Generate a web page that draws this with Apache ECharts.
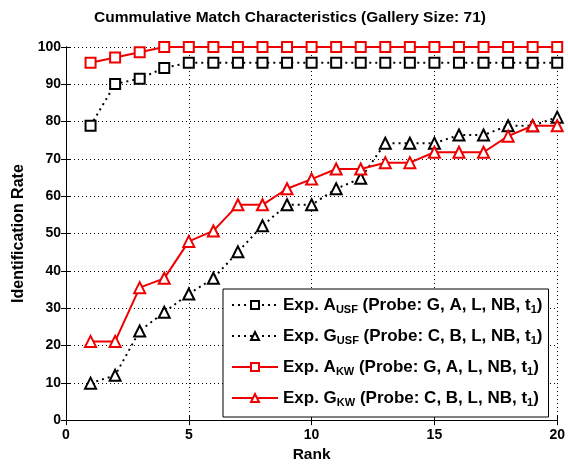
<!DOCTYPE html>
<html><head><meta charset="utf-8">
<script src="https://cdn.jsdelivr.net/npm/echarts@6/dist/echarts.min.js"></script>
<style>html,body{margin:0;padding:0;background:#fff}#c{width:568px;height:468px}</style>
</head><body><div id="c"></div>
<script>
const ranks = [1,2,3,4,5,6,7,8,9,10,11,12,13,14,15,16,17,18,19,20];
const aUSF = [78.9,90.1,91.5,94.4,95.8,95.8,95.8,95.8,95.8,95.8,95.8,95.8,95.8,95.8,95.8,95.8,95.8,95.8,95.8,95.8];
const gUSF = [9.9,12.0,23.9,28.9,33.8,38.0,45.1,52.1,57.7,57.7,62.0,64.8,74.2,74.2,74.2,76.4,76.4,78.9,78.9,81.2];
const aKW = [95.8,97.2,98.6,100,100,100,100,100,100,100,100,100,100,100,100,100,100,100,100,100];
const gKW = [21.1,21.1,35.5,38.0,47.9,50.7,57.7,57.7,62.0,64.6,67.3,67.3,69.0,69.0,71.8,71.8,71.8,76.1,78.9,78.9];
const xTicks = [0,5,10,15,20];
const yTicks = [0,10,20,30,40,50,60,70,80,90,100];
const seriesNames = ['aUSF','gUSF','aKW','gKW'];
const legendLabels = {
  aUSF: 'Exp. A{sub|USF} (Probe: G, A, L, NB, t{sub|1})',
  gUSF: 'Exp. G{sub|USF} (Probe: C, B, L, NB, t{sub|1})',
  aKW: 'Exp. A{sub|KW} (Probe: G, A, L, NB, t{sub|1})',
  gKW: 'Exp. G{sub|KW} (Probe: C, B, L, NB, t{sub|1})'
};
const pair = arr => ranks.map((r,i)=>[r, arr[i]]);
const font = '"Liberation Sans", Arial, sans-serif';
const chart = echarts.init(document.getElementById('c'), null, {renderer:'canvas'});
function mk(name, data, color, symbol, dotted){
  return {
    name, type:'line', data: pair(data), xAxisIndex:0, yAxisIndex:0,
    symbol, symbolSize: symbol==='rect'?10:11, showAllSymbol:true,
    itemStyle:{color:'#fff', borderColor:color, borderWidth:2},
    lineStyle:{color, width:2, type: dotted?[2,4]:'solid'},
    emphasis:{disabled:true}, animation:false
  };
}
chart.setOption({
  animation:false,
  backgroundColor:'#fff',
  title:{text:'Cummulative Match Characteristics (Gallery Size: 71)', left:285, top:5, textAlign:'center',
    textStyle:{fontFamily:font, fontSize:15.5, fontWeight:'bold', color:'#000'}},
  grid:{left:66, right:7, top:47, bottom:46, containLabel:false},
  xAxis:[{type:'value', min:0, max:20, interval:5, position:'bottom',
    name:'Rank', nameLocation:'middle', nameGap:26,
    nameTextStyle:{fontFamily:font, fontSize:15.5, fontWeight:'bold', color:'#000'},
    axisLine:{show:true, lineStyle:{color:'#000', width:1}},
    axisTick:{show:true, inside:true, length:5, lineStyle:{color:'#000'}},
    axisLabel:{fontFamily:font, fontSize:14, fontWeight:'bold', color:'#000', margin:8},
    splitLine:{show:true, lineStyle:{color:'#000', type:[1,3], width:1}}},
   {type:'value', min:0, max:20, interval:5, position:'top',
    axisLine:{show:true, lineStyle:{color:'#000', width:1}},
    axisTick:{show:true, inside:true, length:5, lineStyle:{color:'#000'}},
    axisLabel:{show:false}, splitLine:{show:false}}],
  yAxis:[{type:'value', min:0, max:100, interval:10, position:'left',
    name:'Identification Rate', nameLocation:'middle', nameGap:39, nameRotate:90,
    nameTextStyle:{fontFamily:font, fontSize:16, fontWeight:'bold', color:'#000'},
    axisLine:{show:true, lineStyle:{color:'#000', width:1}},
    axisTick:{show:true, inside:true, length:5, lineStyle:{color:'#000'}},
    axisLabel:{fontFamily:font, fontSize:14, fontWeight:'bold', color:'#000', margin:5},
    splitLine:{show:true, lineStyle:{color:'#000', type:[1,3], width:1}}},
   {type:'value', min:0, max:100, interval:10, position:'right',
    axisLine:{show:true, lineStyle:{color:'#000', width:1}},
    axisTick:{show:true, inside:true, length:5, lineStyle:{color:'#000'}},
    axisLabel:{show:false}, splitLine:{show:false}}],
  legend:{data:seriesNames, orient:'vertical', left:223, top:289, width:326,
    itemWidth:46, itemHeight:10, itemGap:11, padding:[6,6,9,8],
    backgroundColor:'#fff', borderColor:'#000', borderWidth:1, borderRadius:0,
    selectedMode:false,
    formatter: n => legendLabels[n],
    textStyle:{fontFamily:font, fontSize:17, fontWeight:'bold', color:'#000', lineHeight:20,
      rich:{sub:{fontFamily:font, fontSize:11, fontWeight:'bold', color:'#000', lineHeight:20, verticalAlign:'bottom', padding:[9,0,0,0]}}}},
  series:[
    mk('aUSF', aUSF, '#000', 'rect', true),
    mk('gUSF', gUSF, '#000', 'triangle', true),
    mk('aKW', aKW, '#e00', 'rect', false),
    mk('gKW', gKW, '#e00', 'triangle', false)
  ]
});
</script></body></html>
